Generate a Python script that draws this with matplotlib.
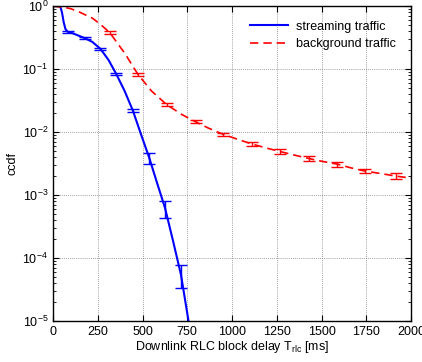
import matplotlib
matplotlib.use("Agg")
import matplotlib.pyplot as plt
import numpy as np

plt.rcParams['font.family'] = ['Liberation Sans', 'DejaVu Sans']
plt.rcParams['mathtext.fontset'] = 'custom'
plt.rcParams['mathtext.rm'] = 'Liberation Sans'

# streaming traffic (blue solid)
stream_x = [0, 40, 50, 60, 70, 83, 111, 178, 220, 265, 310, 354, 400, 446, 490, 539, 580, 626, 670, 715, 757]
stream_y = [1.0, 1.0, 0.8, 0.55, 0.43, 0.39, 0.37, 0.31, 0.27, 0.21, 0.14, 0.083, 0.045, 0.022, 0.0095, 0.0038, 0.0016, 0.00062, 0.00019, 5.4e-05, 1.0e-05]
stream_err_x = [83, 178, 265, 354, 446, 539, 626, 715]
stream_err_y = [0.39, 0.31, 0.21, 0.083, 0.022, 0.0038, 0.00062, 5.4e-05]
stream_err_lo = [0.37, 0.30, 0.20, 0.080, 0.021, 0.0031, 0.00043, 3.4e-05]
stream_err_hi = [0.41, 0.32, 0.22, 0.086, 0.023, 0.0046, 0.00080, 7.8e-05]

# background traffic (red dashed)
bg_x = [0, 60, 100, 150, 222, 270, 317, 400, 474, 550, 637, 720, 798, 870, 952, 1030, 1109, 1190, 1270, 1350, 1430, 1510, 1587, 1665, 1744, 1830, 1915, 2000]
bg_y = [1.0, 0.96, 0.91, 0.80, 0.64, 0.50, 0.38, 0.18, 0.083, 0.045, 0.027, 0.019, 0.0145, 0.0115, 0.0092, 0.0077, 0.0065, 0.0056, 0.0049, 0.0043, 0.0038, 0.0034, 0.0031, 0.0027, 0.0024, 0.0022, 0.0020, 0.00186]
bg_err_x = [317, 474, 637, 798, 952, 1109, 1270, 1430, 1587, 1744, 1915]
bg_err_y = [0.38, 0.083, 0.027, 0.0145, 0.0092, 0.0065, 0.0049, 0.0038, 0.0031, 0.0024, 0.0020]
bg_err_lo = [0.36, 0.079, 0.0255, 0.0137, 0.0087, 0.0061, 0.0045, 0.0035, 0.0028, 0.0022, 0.0018]
bg_err_hi = [0.40, 0.087, 0.0285, 0.0153, 0.0097, 0.0069, 0.0053, 0.0041, 0.0034, 0.0026, 0.0022]

fig = plt.figure(figsize=(4.22, 3.62), dpi=100)
ax = fig.add_axes([0.1256, 0.1133, 0.8484, 0.8697])

blue = '#0000ff'
red = '#ff0000'

ax.plot(stream_x, stream_y, color=blue, lw=1.5, label='streaming traffic')
ax.errorbar(stream_err_x, stream_err_y,
            yerr=[np.array(stream_err_y) - np.array(stream_err_lo), np.array(stream_err_hi) - np.array(stream_err_y)],
            fmt='none', ecolor=blue, elinewidth=1.0, capsize=4, capthick=1.0)

ax.plot(bg_x, bg_y, color=red, lw=1.2, ls=(0, (5, 3)), label='background traffic')
ax.errorbar(bg_err_x, bg_err_y,
            yerr=[np.array(bg_err_y) - np.array(bg_err_lo), np.array(bg_err_hi) - np.array(bg_err_y)],
            fmt='none', ecolor=red, elinewidth=1.0, capsize=4, capthick=1.0)

ax.set_yscale('log')
ax.set_xlim(0, 2000)
ax.set_ylim(1e-5, 1)
ax.set_xticks(np.arange(0, 2001, 250))
ax.set_yticks([1e-5, 1e-4, 1e-3, 1e-2, 1e-1, 1])
ax.grid(True, which='major', color='#808080', ls=(0, (1, 1.5)), lw=0.6)
ax.tick_params(which='both', direction='in', top=True, right=True, labelsize=9)
ax.tick_params(which='major', length=4)
ax.tick_params(which='minor', length=2)
for s in ax.spines.values():
    s.set_linewidth(1.0)

ax.set_xlabel(r'Downlink RLC block delay T$_{\mathrm{rlc}}$ [ms]', fontsize=9, labelpad=1)
ax.set_ylabel('ccdf', fontsize=9, labelpad=3)

ax.legend(loc='upper right', bbox_to_anchor=(0.99, 0.99), frameon=False, fontsize=9,
          handlelength=3.0, handletextpad=0.7, labelspacing=0.45)

fig.savefig('out.png', dpi=100)
